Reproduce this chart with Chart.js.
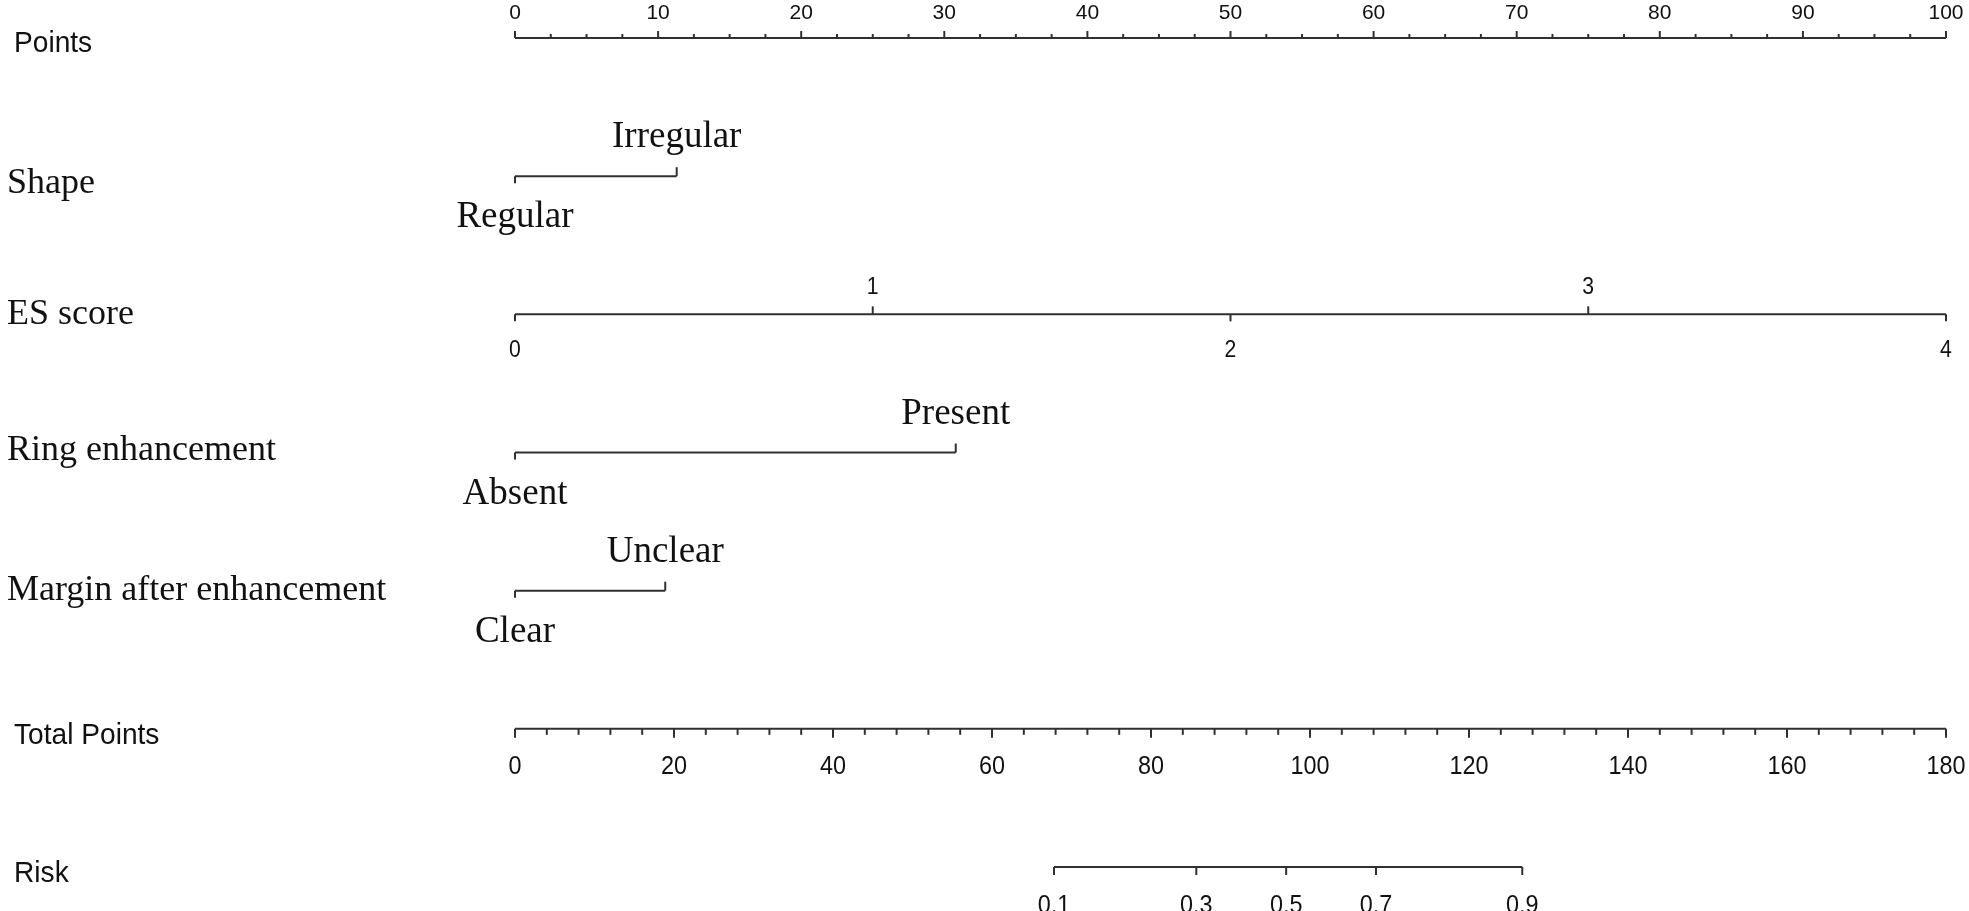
<!DOCTYPE html>
<html>
<head>
<meta charset="utf-8">
<script src="https://cdn.jsdelivr.net/npm/chart.js@4.4.1/dist/chart.umd.min.js"></script>
<style>
    html, body { margin: 0; padding: 0; background: #fff; }
    #wrap { width: 1969px; height: 911px; }
</style>
</head>
<body>
<div id="wrap"><canvas id="nomogram" width="1969" height="911"></canvas></div>
<script>
// Rows of the nomogram, top to bottom
const rowLabels = ['Points', 'Shape', 'ES score', 'Ring enhancement', 'Margin after enhancement', 'Total Points', 'Risk'];

// Points scale
const pointsTicks = [0, 10, 20, 30, 40, 50, 60, 70, 80, 90, 100];
const pointsMinorStep = 2.5;

// Shape
const shapeLevels = ['Regular', 'Irregular'];
const shapePoints = [0, 11.3];

// ES score (0..4 spans the full points range)
const esValues = [0, 1, 2, 3, 4];

// Ring enhancement
const ringLevels = ['Absent', 'Present'];
const ringPoints = [0, 30.8];

// Margin after enhancement
const marginLevels = ['Clear', 'Unclear'];
const marginPoints = [0, 10.5];

// Total points scale
const totalTicks = [0, 20, 40, 60, 80, 100, 120, 140, 160, 180];
const totalMinorStep = 4;

// Risk, placed on the total points scale
const riskLabels = ['0.1', '0.3', '0.5', '0.7', '0.9'];
const riskTotals = [67.8, 85.7, 97.0, 108.3, 126.7];

const SANS = "'Liberation Sans', Arial, sans-serif";
const SERIF = "'Liberation Serif', 'Times New Roman', serif";
const LINE = '#303030';
const TEXT = '#111';

// baseline offset of each row title from its axis line
const titleOffset = [14, 17, 10, 7, 9, 15, 15];

function segment(xs, row, axisId) {
    return {
        data: [{ x: xs[0], y: row }, { x: xs[xs.length - 1], y: row }],
        xAxisID: axisId,
        yAxisID: 'y',
        showLine: true,
        borderColor: LINE,
        borderWidth: 2,
        pointRadius: 0,
        clip: false
    };
}

function tick(ctx, px, py, len) {
    ctx.beginPath();
    ctx.moveTo(px, py);
    ctx.lineTo(px, py + len);
    ctx.stroke();
}

function label(ctx, text, px, py, font, align, squeeze) {
    ctx.save();
    ctx.font = font;
    ctx.textAlign = align || 'center';
    ctx.textBaseline = 'alphabetic';
    ctx.translate(px, py);
    ctx.scale(squeeze || 1, 1);
    ctx.fillText(text, 0, 0);
    ctx.restore();
}

// Ticks, tick labels and row titles, positioned through the chart scales
const nomogramPlugin = {
    id: 'nomogram',
    afterDatasetsDraw(chart) {
        const { ctx, scales } = chart;
        const sx = scales.x, se = scales.xEs, st = scales.xTotal, sy = scales.y;
        const rowY = i => sy.getPixelForValue(i);

        ctx.save();
        ctx.strokeStyle = LINE;
        ctx.fillStyle = TEXT;
        ctx.lineWidth = 2;

        // Row titles
        rowLabels.forEach((t, i) => {
            const sans = i === 0 || i >= 5;
            label(ctx, t, sans ? 14 : 7, rowY(i) + titleOffset[i],
                sans ? `29px ${SANS}` : `36px ${SERIF}`, 'left', sans ? 0.97 : 1);
        });

        // Points axis: ticks up, labels above
        let y = rowY(0);
        for (let v = 0; v <= 100 + 1e-9; v += pointsMinorStep) {
            const major = pointsTicks.includes(v);
            tick(ctx, sx.getPixelForValue(v), y, major ? -7 : -4);
        }
        pointsTicks.forEach(v => label(ctx, String(v), sx.getPixelForValue(v), y - 19, `21px ${SANS}`));

        // Two-level categorical rows
        const cats = [[1, shapeLevels, shapePoints], [3, ringLevels, ringPoints], [4, marginLevels, marginPoints]];
        cats.forEach(([row, levels, pts]) => {
            const yy = rowY(row);
            const x0 = sx.getPixelForValue(pts[0]);
            const x1 = sx.getPixelForValue(pts[1]);
            tick(ctx, x0, yy, 7);
            tick(ctx, x1, yy, -9);
            label(ctx, levels[0], x0, yy + 51, `37px ${SERIF}`);
            label(ctx, levels[1], x1, yy - 29, `37px ${SERIF}`);
        });

        // ES score: even values below, odd values above
        y = rowY(2);
        esValues.forEach(v => {
            const px = se.getPixelForValue(v);
            const up = v % 2 === 1;
            tick(ctx, px, y, up ? -8 : 7);
            label(ctx, String(v), px, up ? y - 20 : y + 43, `23px ${SANS}`, 'center', 0.92);
        });

        // Total points axis: ticks down, labels below
        y = rowY(5);
        for (let v = 0; v <= 180 + 1e-9; v += totalMinorStep) {
            const major = totalTicks.includes(v);
            tick(ctx, st.getPixelForValue(v), y, major ? 9 : 6);
        }
        totalTicks.forEach(v => label(ctx, String(v), st.getPixelForValue(v), y + 45, `26px ${SANS}`, 'center', 0.9));

        // Risk axis
        y = rowY(6);
        riskTotals.forEach((v, i) => {
            const px = st.getPixelForValue(v);
            tick(ctx, px, y, 8);
            label(ctx, riskLabels[i], px, y + 46, `26px ${SANS}`, 'center', 0.9);
        });

        ctx.restore();
    }
};

new Chart(document.getElementById('nomogram'), {
    type: 'scatter',
    data: {
        datasets: [
            segment([0, 100], 0, 'x'),
            segment(shapePoints, 1, 'x'),
            segment([esValues[0], esValues[esValues.length - 1]], 2, 'xEs'),
            segment(ringPoints, 3, 'x'),
            segment(marginPoints, 4, 'x'),
            segment([totalTicks[0], totalTicks[totalTicks.length - 1]], 5, 'xTotal'),
            segment(riskTotals, 6, 'xTotal')
        ]
    },
    options: {
        responsive: false,
        animation: false,
        devicePixelRatio: 1,
        events: [],
        layout: { padding: { left: 515, right: 23, top: 38, bottom: 44 } },
        plugins: { legend: { display: false }, tooltip: { enabled: false } },
        scales: {
            x: { type: 'linear', min: 0, max: 100, display: false },
            xEs: { type: 'linear', axis: 'x', min: 0, max: 4, display: false },
            xTotal: { type: 'linear', axis: 'x', min: 0, max: 180, display: false },
            y: { type: 'linear', min: 0, max: 6, reverse: true, display: false }
        }
    },
    plugins: [nomogramPlugin]
});
</script>
</body>
</html>
